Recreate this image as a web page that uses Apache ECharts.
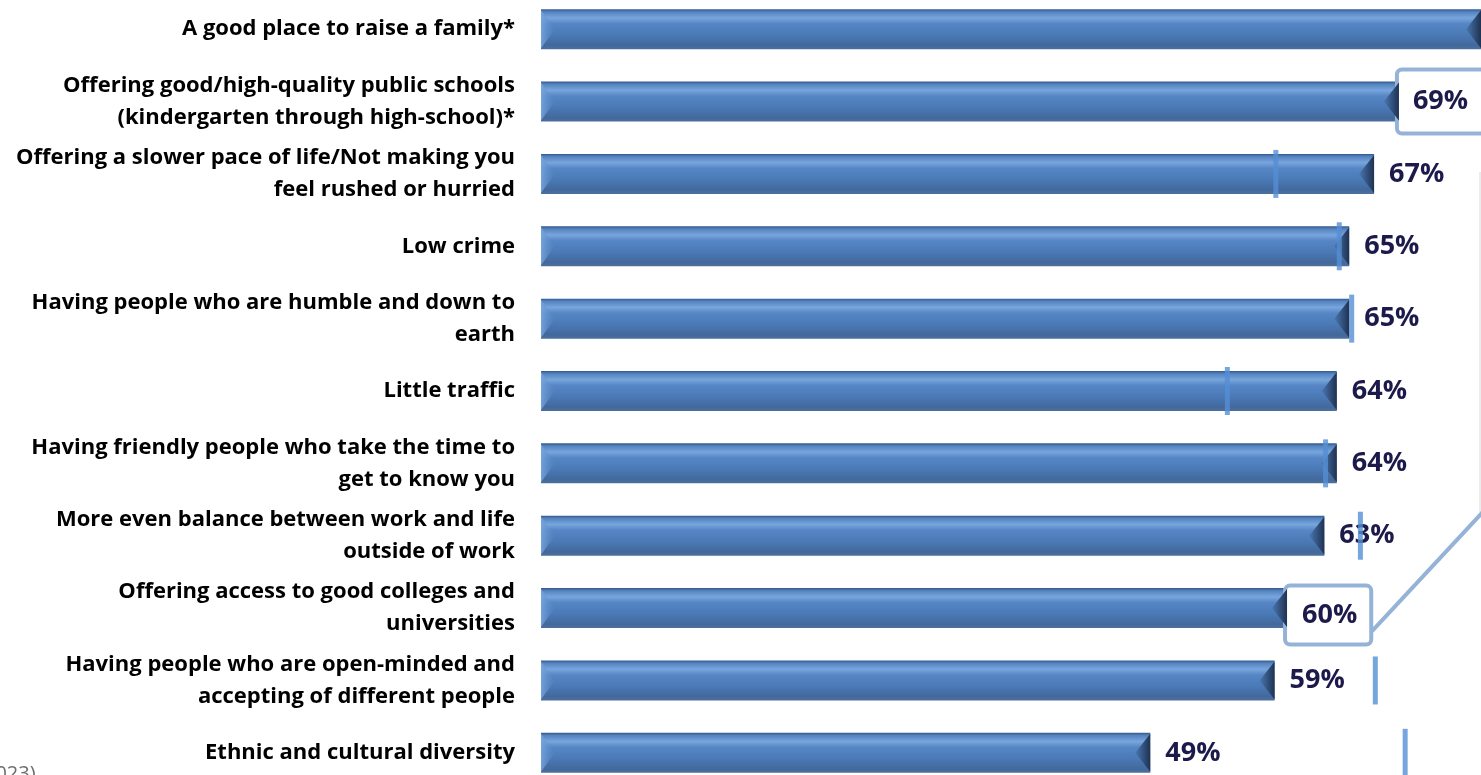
<!DOCTYPE html>
<html><head><meta charset="utf-8">
<script src="https://cdn.jsdelivr.net/npm/echarts@6/dist/echarts.min.js"></script>
<style>html,body{margin:0;padding:0;background:#fff;overflow:hidden;width:1481px;height:775px;position:relative}#c{position:absolute;left:0;top:-7px;width:1481px;height:796px}</style>
</head><body><div id="c"></div>
<script>
const categories = [
  'A good place to raise a family*',
  'Offering good/high-quality public schools\n(kindergarten through high-school)*',
  'Offering a slower pace of life/Not making you\nfeel rushed or hurried',
  'Low crime',
  'Having people who are humble and down to\nearth',
  'Little traffic',
  'Having friendly people who take the time to\nget to know you',
  'More even balance between work and life\noutside of work',
  'Offering access to good colleges and\nuniversities',
  'Having people who are open-minded and\naccepting of different people',
  'Ethnic and cultural diversity'
];
const values = [76, 69, 67, 65, 65, 64, 64, 63, 60, 59, 49];
const priorValues = [null, null, 59.1, 64.2, 65.2, 55.2, 63.1, 65.9, null, 67.1, 69.5];

const OFFSET = 7; // canvas starts 7px above the viewport
const chart = echarts.init(document.getElementById('c'), null, {renderer: 'canvas'});

const barGradient = new echarts.graphic.LinearGradient(0, 0, 0, 1, [
  {offset: 0, color: '#35598a'},
  {offset: 0.07, color: '#5584c2'},
  {offset: 0.22, color: '#78a5dc'},
  {offset: 0.36, color: '#5686c5'},
  {offset: 0.65, color: '#4a79b6'},
  {offset: 0.9, color: '#42699c'},
  {offset: 1, color: '#4d6f9c'}
]);

const pctLabel = {
  show: true, position: 'right', distance: 15,
  formatter: p => p.value + '%',
  fontFamily: 'Open Sans', fontWeight: 'bold', fontSize: 27, color: '#1c1a4a'
};

const barData = values.map((v, i) => {
  if (i === 1) {
    return {value: v, label: {distance: 0, backgroundColor: '#fff', borderColor: '#95b3d7', borderWidth: 4, borderRadius: 3, padding: [17, 40, 16, 14]}};
  }
  if (i === 8) {
    return {value: v, label: {distance: 0, offset: [0, 7], backgroundColor: '#fff', borderColor: '#95b3d7', borderWidth: 4, borderRadius: 3, padding: [6, 12, 22, 15]}};
  }
  return v;
});

const markerData = [];
priorValues.forEach((v, i) => { if (v != null) markerData.push([v, i]); });

function renderBevel(params, api) {
  const cs = params.coordSys;
  const s = api.coord([0, api.value(1)]);
  const e = api.coord([api.value(0), api.value(1)]);
  const h = 40;
  const top = s[1] - h / 2, mid = s[1], bot = s[1] + h / 2;
  const x0 = s[0];
  const x1 = Math.min(e[0], cs.x + cs.width);
  return {
    type: 'group',
    children: [
      {type: 'polygon', shape: {points: [[x0, top + 1], [x0 + 14, mid], [x0, bot - 1]]},
        style: {fill: new echarts.graphic.LinearGradient(0, 0, 1, 0, [
          {offset: 0, color: 'rgba(120,165,220,0.9)'}, {offset: 1, color: 'rgba(80,130,195,0.3)'}])}},
      {type: 'polygon', shape: {points: [[x1, top + 1], [x1 - 15, mid], [x1, bot - 1]]},
        style: {fill: new echarts.graphic.LinearGradient(0, 0, 1, 0, [
          {offset: 0, color: '#4a77b0'}, {offset: 1, color: '#1f3252'}])}}
    ]
  };
}

chart.setOption({
  backgroundColor: '#fff',
  animation: false,
  grid: {left: 541, right: 0, top: 0, bottom: 0},
  xAxis: {type: 'value', min: 0, max: 75.6, show: false},
  yAxis: {
    type: 'category', data: categories, inverse: true,
    axisLine: {show: false}, axisTick: {show: false},
    axisLabel: {fontFamily: 'Open Sans', fontWeight: 'bold', fontSize: 22, color: '#000', lineHeight: 32, margin: 26, align: 'right'}
  },
  series: [
    {type: 'bar', data: barData, barWidth: 40, itemStyle: {color: barGradient}, label: pctLabel, z: 2},
    {type: 'custom', data: values.map((v, i) => [v, i]), renderItem: renderBevel, z: 3, silent: true},
    {type: 'scatter', data: markerData, symbol: 'rect', symbolSize: [5, 48], itemStyle: {color: '#558ed5'}, z: 4}
  ]
});

const p = chart.convertToPixel({gridIndex: 0}, [values[8], 8]);
chart.setOption({
  graphic: [
    {type: 'line', shape: {x1: p[0] + 85, y1: p[1] + 23, x2: p[0] + 285, y2: p[1] + 23 - 215},
      style: {stroke: '#95b3d7', lineWidth: 4}, z: 10},
    {type: 'line', shape: {x1: 1480, y1: 172 + OFFSET, x2: 1480, y2: 512 + OFFSET}, style: {stroke: '#ececec', lineWidth: 2}, z: 1},
    {type: 'text', left: -16, top: 764 + OFFSET, style: {text: '2023)', fontFamily: 'Open Sans', fontSize: 20, fill: '#6e6e6e'}, z: 10}
  ]
});
</script>
</body></html>
